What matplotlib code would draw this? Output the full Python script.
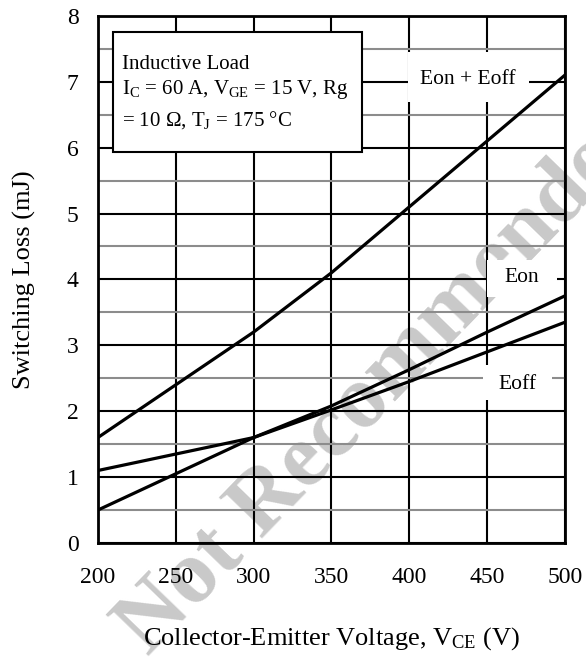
import numpy as np
import matplotlib
matplotlib.use("Agg")
from matplotlib import pyplot as plt
from matplotlib.patches import Rectangle

# Dados
vce = [200, 250, 300, 350, 400, 450, 500]
eon = [0.5, 1.05, 1.6, 2.08, 2.63, 3.2, 3.75]
eoff = [1.1, 1.35, 1.6, 2.02, 2.45, 2.9, 3.35]
etotal = [1.6, 2.4, 3.2, 4.1, 5.1, 6.1, 7.1]

x_ticks = [200, 250, 300, 350, 400, 450, 500]
y_ticks = [0, 1, 2, 3, 4, 5, 6, 7, 8]

plt.rcParams['font.family'] = ['Liberation Serif', 'DejaVu Serif']
plt.rcParams['mathtext.fontset'] = 'custom'
plt.rcParams['mathtext.rm'] = 'Liberation Serif'
plt.rcParams['mathtext.it'] = 'Liberation Serif:italic'

fig = plt.figure(figsize=(5.86, 6.59), dpi=100)

# marca d'agua atras do grafico (zorder negativo -> desenhada antes dos eixos)
fig.text(0.689, 0.403, "Not Recommended", fontsize=65, fontweight='bold',
         color='#c9c9c9', rotation=46, rotation_mode='anchor',
         ha='center', va='baseline', zorder=-1)

ax = fig.add_axes([0.167, 0.176, 0.797, 0.800])
ax.set_facecolor('none')
ax.set_xlim(200, 500)
ax.set_ylim(0, 8)
ax.set_xticks(x_ticks)
ax.set_yticks(y_ticks)
ax.set_yticks(np.arange(0.5, 8, 1.0), minor=True)
ax.tick_params(which='both', length=0, labelsize=17)
ax.tick_params(axis='x', pad=17)
ax.tick_params(axis='y', pad=14)

ax.grid(True, which='major', color='black', lw=1.5, zorder=1)
ax.grid(True, which='minor', axis='y', color='#8c8c8c', lw=1.5, zorder=1)
for s in ax.spines.values():
    s.set_linewidth(2.0)
    s.set_zorder(4)

ax.plot(vce, etotal, color='black', lw=2.3, zorder=3)
ax.plot(vce, eon, color='black', lw=2.3, zorder=3)
ax.plot(vce, eoff, color='black', lw=2.3, zorder=3)

ax.set_xlabel(r'Collector-Emitter Voltage, V$_\mathrm{CE}$ (V)', fontsize=19, labelpad=27)
ax.set_ylabel('Switching Loss (mJ)', fontsize=19, labelpad=22)

# rotulos das curvas com fundo branco (cobrindo a grade)
mascaras = [(0.664, 0.837, 0.259, 0.095), (0.833, 0.467, 0.150, 0.070), (0.824, 0.271, 0.148, 0.067)]
for mx, my, mw, mh in mascaras:
    ax.add_patch(Rectangle((mx, my), mw, mh, transform=ax.transAxes,
                           facecolor='white', edgecolor='none', zorder=2))
ax.text(0.793, 0.880, 'Eon + Eoff', transform=ax.transAxes, fontsize=15.5, ha='center', va='center', zorder=2.5)
ax.text(0.908, 0.503, 'Eon', transform=ax.transAxes, fontsize=15.5, ha='center', va='center', zorder=2.5)
ax.text(0.899, 0.300, 'Eoff', transform=ax.transAxes, fontsize=15.5, ha='center', va='center', zorder=2.5)

# caixa de condicoes
ax.add_patch(Rectangle((0.0315, 0.742), 0.534, 0.228, transform=ax.transAxes,
                       facecolor='white', edgecolor='black', lw=1.5, zorder=5))
linhas = ['Inductive Load',
          r'I$_\mathrm{C}$ = 60 A, V$_\mathrm{GE}$ = 15 V, Rg',
          r'= 10 Ω, T$_\mathrm{J}$ = 175 °C']
for txt, yy in zip(linhas, [0.899, 0.852, 0.791]):
    ax.text(0.0507, yy, txt, transform=ax.transAxes, fontsize=15, ha='left', va='baseline', zorder=6)

plt.savefig('out.png', dpi=100)
